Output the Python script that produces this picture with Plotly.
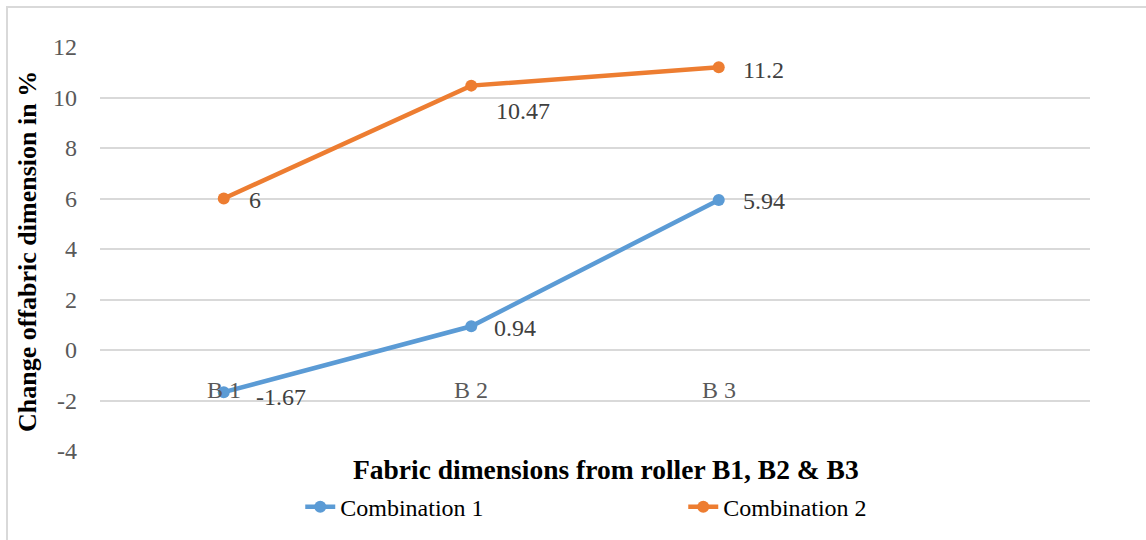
import plotly.graph_objects as go

# Category slots on the x axis (fourth slot left empty, as in the workbook chart)
categories = ["B 1", "B 2", "B 3"]
slot_count = 4

combination_1 = [-1.67, 0.94, 5.94]
combination_2 = [6, 10.47, 11.2]

series_names = ["Combination 1", "Combination 2"]

y_ticks = [-4, -2, 0, 2, 4, 6, 8, 10, 12]
y_tick_text = ["-4", "-2", "0", "2", "4", "6", "8", "10", "12"]

# Pixel offsets of each value label from its marker
label_shift_1 = [(30, -5), (21, -2), (22, -1)]
label_shift_2 = [(23, -1), (23, -25), (22, -3)]

FONT = "Liberation Serif, Times New Roman, serif"
BLUE = "#5B9BD5"
ORANGE = "#ED7D31"
GRID = "#D9D9D9"

x_idx = list(range(len(categories)))

fig = go.Figure()

for name, values, color in [(series_names[0], combination_1, BLUE),
                            (series_names[1], combination_2, ORANGE)]:
    fig.add_trace(go.Scatter(
        x=x_idx, y=values, name=name,
        mode="lines+markers",
        line=dict(color=color, width=4.5),
        marker=dict(color=color, size=12),
        cliponaxis=False,
    ))

annotations = []

# Value labels beside each marker
for values, shifts in [(combination_1, label_shift_1), (combination_2, label_shift_2)]:
    for i, (v, (dx, dy)) in enumerate(zip(values, shifts)):
        annotations.append(dict(
            x=i, y=v, xref="x", yref="y", text=f"{v:g}", showarrow=False,
            xanchor="left", yanchor="middle", xshift=dx, yshift=dy,
            font=dict(family=FONT, size=24, color="#404040"),
        ))

# Category labels sit just below the zero line
for i, c in enumerate(categories):
    annotations.append(dict(
        x=i, y=-1.6, xref="x", yref="y", text=c, showarrow=False,
        xanchor="center", yanchor="middle",
        font=dict(family=FONT, size=24, color="#595959"),
    ))

annotations.append(dict(
    x=0.511, y=-0.047, xref="paper", yref="paper",
    xanchor="center", yanchor="middle",
    text="<b>Fabric dimensions from roller B1, B2 & B3</b>", showarrow=False,
    font=dict(family=FONT, size=27.5, color="#000000"),
))
annotations.append(dict(
    x=-0.0738, y=0.495, xref="paper", yref="paper", textangle=-90,
    xanchor="center", yanchor="middle",
    text="<b>Change offabric dimension in %</b>", showarrow=False,
    font=dict(family=FONT, size=26, color="#000000"),
))

fig.update_layout(
    width=1146, height=540,
    margin=dict(l=100, r=56, t=47, b=89),
    paper_bgcolor="white", plot_bgcolor="white",
    font=dict(family=FONT, size=24, color="#595959"),
    showlegend=True,
    legend=dict(
        orientation="h", xref="container", yref="container",
        x=0.262, y=0.061, xanchor="left", yanchor="middle",
        entrywidth=338, entrywidthmode="pixels",
        font=dict(family=FONT, size=24, color="#000000"),
        bgcolor="rgba(0,0,0,0)",
    ),
    xaxis=dict(
        range=[-0.5, slot_count - 0.5],
        showgrid=False, zeroline=False, showticklabels=False,
        showline=False, ticks="",
    ),
    yaxis=dict(
        range=[-4, 12], tickvals=y_ticks, ticktext=y_tick_text,
        showgrid=True, gridcolor=GRID, gridwidth=1.5,
        zeroline=False, showline=False, ticks="",
        ticklabelstandoff=22,
        tickfont=dict(family=FONT, size=24, color="#595959"),
    ),
    annotations=annotations,
    shapes=[dict(
        type="rect", xref="paper", yref="paper",
        x0=(7 - 100) / 990, x1=(1160 - 100) / 990,
        y0=(451 - 560) / 404, y1=(451 - 7) / 404,
        line=dict(color=GRID, width=2), layer="below",
    )],
)

fig.write_html("out.html")
